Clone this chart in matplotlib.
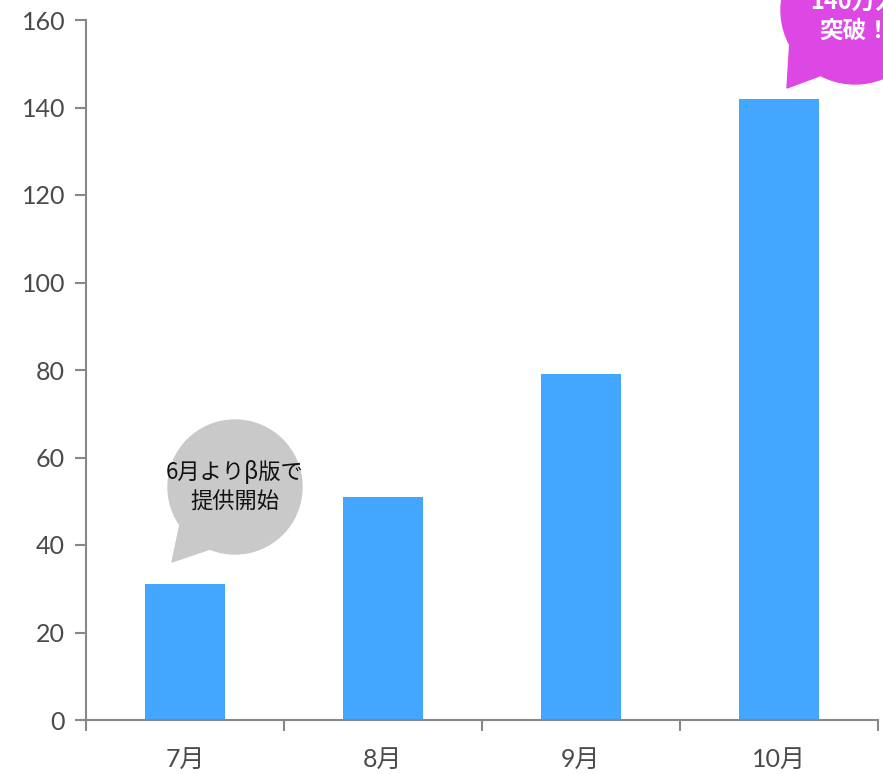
import matplotlib
matplotlib.use("Agg")
import matplotlib.pyplot as plt
from matplotlib.patches import Circle, Polygon

plt.rcParams['font.family'] = ['Noto Sans CJK JP', 'DejaVu Sans']
tick_family = ['Lato', 'Noto Sans CJK JP']

categories = ["7月", "8月", "9月", "10月"]
values = [31, 51, 79, 142]
yticks = [0, 20, 40, 60, 80, 100, 120, 140, 160]

W, H = 883, 774
fig = plt.figure(figsize=(W / 100, H / 100), dpi=100)
ax = fig.add_axes([86 / W, (H - 720) / H, (878 - 86) / W, 700 / H])

x = list(range(len(categories)))
ax.bar(x, values, width=0.4, color="#43A6FF", zorder=2)
ax.set_xlim(-0.5, len(categories) - 0.5)
ax.set_ylim(0, 160)
ax.set_yticks(yticks)
ax.set_yticklabels([str(v) for v in yticks], family=tick_family, fontweight="normal")
ax.set_xticks(x)
ax.set_xticklabels(categories, family=tick_family, fontweight="normal")
ax.set_xticks([i - 0.5 for i in range(len(categories) + 1)], minor=True)

for s in ["top", "right"]:
    ax.spines[s].set_visible(False)
for s in ["left", "bottom"]:
    ax.spines[s].set_color("#888888")
    ax.spines[s].set_linewidth(1.5)

ax.tick_params(axis="y", direction="out", length=8, width=1.5, color="#888888",
               labelsize=18, labelcolor="#4a4a4a", pad=7)
ax.tick_params(axis="x", which="major", length=0, labelsize=18,
               labelcolor="#4a4a4a", pad=20)
ax.tick_params(axis="x", which="minor", direction="out", length=8, width=1.5,
               color="#888888")

# speech bubbles (figure pixel coordinates -> inches)
def px(xp, yp):
    return (xp / 100, (H - yp) / 100)

tr = fig.dpi_scale_trans
gray = "#C9C9C9"
fig.patches.append(Circle(px(235, 487), 0.67, transform=tr, color=gray, zorder=5))
fig.patches.append(Polygon([px(182, 515), px(172, 562), px(222, 545)], closed=True,
                           transform=tr, color=gray, zorder=5))
fig.text(*px(235, 472), "6月よりβ版で", transform=tr, ha="center", va="center",
         fontsize=16, color="#111111", zorder=6)
fig.text(*px(235, 502), "提供開始", transform=tr, ha="center", va="center",
         fontsize=16, color="#111111", zorder=6)

mag = "#DD47E3"
fig.patches.append(Circle(px(855, 10), 0.74, transform=tr, color=mag, zorder=5))
fig.patches.append(Polygon([px(790, 40), px(787, 88), px(830, 72)], closed=True,
                           transform=tr, color=mag, zorder=5))
fig.text(*px(855, 2), "140万人", transform=tr, ha="center", va="center",
         fontsize=17, color="white", fontweight="bold", zorder=6)
fig.text(*px(855, 31), "突破！", transform=tr, ha="center", va="center",
         fontsize=17, color="white", fontweight="bold", zorder=6)

fig.savefig("out.png", dpi=100)
